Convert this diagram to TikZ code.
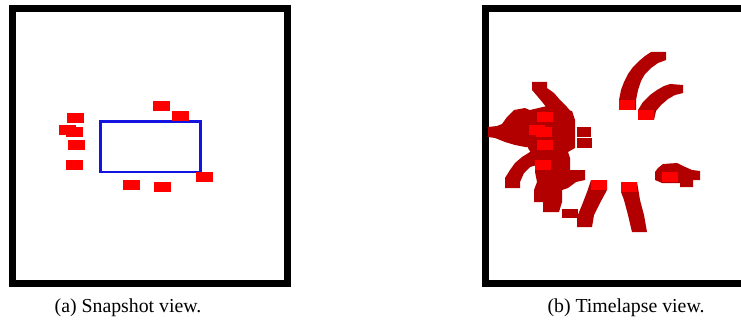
\documentclass[tikz,border=0pt]{standalone}
\usepackage{fontspec}
\setmainfont{Liberation Serif}
\definecolor{dred}{RGB}{178,0,0}
\definecolor{bred}{RGB}{255,0,0}
\definecolor{frameblue}{RGB}{20,20,225}
\begin{document}
\begin{tikzpicture}[x=1pt,y=-1pt,
  trail/.style={fill=dred},
  robot/.style={fill=bred},
  frame/.style={line width=7pt, draw=black, line join=miter},
  caption/.style={font=\fontsize{19.8}{23}\selectfont, inner sep=0pt}]
\useasboundingbox (0,0) rectangle (741,334);
\fill[white] (0,0) rectangle (741,334);

% ---------- (a) snapshot view ----------
\draw[frame] (12.5,8.5) rectangle (287,283);
\draw[draw=frameblue, line width=2.2pt] (100.5,121.5) rectangle (200.5,172);
\foreach \x/\y in {153/101,172/111,67/113,59/125,66/127,68/140,66/160,196/172,123/180,154/182}
  \fill[robot] (\x,\y) rectangle ++(16.5,9.7);

% ---------- (b) timelapse view ----------
\draw[frame] (741,8.5) -- (485,8.5) -- (485,283) -- (741,283);

% trail A (upper arc)
\fill[trail] (619,110) -- (619,100) -- (621,90) -- (624,82) -- (628,74) -- (633,67) -- (639,61)
  -- (645,56) -- (651,52) -- (666,52) -- (666,60) -- (658,63) -- (651,68) -- (645,74)
  -- (641,81) -- (638,90) -- (636,100) -- (636,110) -- cycle;
% trail B
\fill[trail] (638,120) -- (638,110) -- (643,102) -- (650,95) -- (657,90) -- (664,86) -- (670,84)
  -- (683,85) -- (683,93) -- (675,95) -- (668,99) -- (661,105) -- (656,111) -- (654,120) -- cycle;
% trail C
\fill[trail] (655,172) -- (658,168) -- (663,164) -- (677,163) -- (683,166) -- (692,170) -- (700,171)
  -- (700,180) -- (693,180) -- (693,187) -- (680,187) -- (680,183) -- (662,183) -- (655,180) -- cycle;
% trail D
\fill[trail] (621,182) -- (637,182) -- (640,200) -- (644,215) -- (647,232) -- (632,232) -- (628,215)
  -- (624,200) -- (621,192) -- cycle;
% trail E
\fill[trail] (591,180) -- (607,180) -- (607,190) -- (600,203) -- (594,215) -- (592,227) -- (577,227)
  -- (577,217) -- (582,205) -- (587,192) -- cycle;
\fill[trail] (562,209) rectangle (578,218);

% cluster F
% upper diagonal arm
\fill[trail] (532,82) -- (547,82) -- (547,88) -- (554,93) -- (560,100) -- (567,107) -- (572,113)
  -- (556,114) -- (547,108) -- (543,103) -- (538,97) -- (532,90) -- cycle;
% body
\fill[trail] (530,110) -- (547,106) -- (572,111) -- (575,120) -- (575,148) -- (568,152) -- (556,158)
  -- (534,158) -- (528,148) -- cycle;
% left arm
\fill[trail] (488,127) -- (497,126) -- (502,124) -- (507,117) -- (514,110) -- (525,108) -- (534,112)
  -- (535,148) -- (525,147) -- (515,145) -- (505,142) -- (495,138) -- (488,137) -- cycle;
% lower-left arm
\fill[trail] (505,188) -- (505,178) -- (510,170) -- (515,163) -- (522,157) -- (530,152) -- (537,150)
  -- (537,165) -- (530,167) -- (524,173) -- (520,182) -- (520,188) -- cycle;
% lower central
\fill[trail] (535,152) -- (568,152) -- (570,158) -- (570,170) -- (585,170) -- (585,180) -- (576,182)
  -- (568,188) -- (562,190) -- (562,202) -- (559,212) -- (543,212) -- (543,202) -- (534,202)
  -- (534,190) -- (537,182) -- (535,172) -- cycle;
\fill[trail] (577,127) rectangle (591,137);
\fill[trail] (577,138) rectangle (592,148);

% latest positions
\foreach \x/\y in {619/100,638/110,662/172,621/182,591/180,537/112,529/125,536/127,537/140,535/160}
  \fill[robot] (\x,\y) rectangle ++(16,10);

% ---------- captions ----------
\node[caption] (capa) at (128,308) {(a) Snapshot view.};
\node[caption] (capb) at (626,308) {(b) Timelapse view.};
\end{tikzpicture}
\end{document}
